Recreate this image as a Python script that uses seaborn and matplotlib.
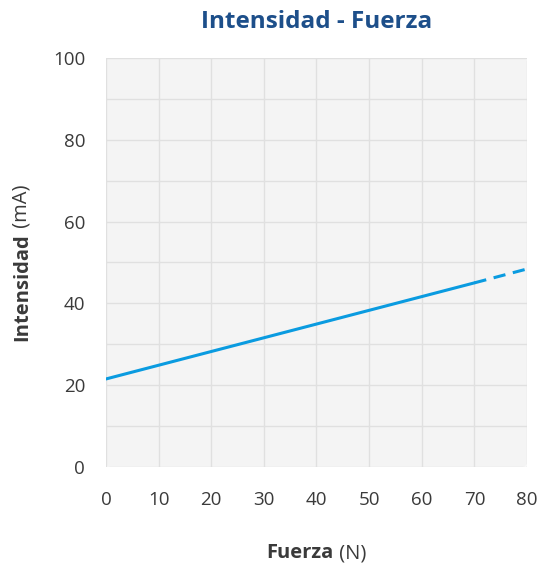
import matplotlib
matplotlib.use("Agg")
import matplotlib.pyplot as plt
from matplotlib.patches import FancyBboxPatch
import pandas as pd
import seaborn as sns

# datos
fuerza_medida = [0, 70]
intensidad_medida = [21.5, 45.0]
fuerza_extrapolada = [70, 80]
intensidad_extrapolada = [45.0, 48.4]
x_ticks = [0, 10, 20, 30, 40, 50, 60, 70, 80]
y_ticks = [0, 20, 40, 60, 80, 100]

sns.set_theme(style="white")
plt.rcParams["font.family"] = ["Open Sans", "DejaVu Sans"]

LINE = "#0a9be0"
TEXT = "#3a3a3a"

fig = plt.figure(figsize=(5.49, 5.68), dpi=100)
ax = fig.add_axes([0.193, 0.178, 0.767, 0.72])

ax.patch.set_visible(False)
bg = FancyBboxPatch((0, 0), 1, 1, boxstyle="round,pad=0,rounding_size=0.012",
                    transform=ax.transAxes, facecolor="#f4f4f4", edgecolor="none",
                    zorder=0)
ax.add_patch(bg)

df1 = pd.DataFrame({"x": fuerza_medida, "y": intensidad_medida})
df2 = pd.DataFrame({"x": fuerza_extrapolada, "y": intensidad_extrapolada})
sns.lineplot(data=df1, x="x", y="y", ax=ax, color=LINE, lw=2.2, zorder=3)
sns.lineplot(data=df2, x="x", y="y", ax=ax, color=LINE, lw=2.2, zorder=3,
             dashes=False, linestyle=(0, (4, 2.5)))

ax.set_xlim(0, 80)
ax.set_ylim(0, 100)
ax.set_xticks(x_ticks)
ax.set_yticks(y_ticks)
ax.set_yticks(range(0, 101, 10), minor=True)
ax.grid(True, which="both", color="#e0e0e0", lw=1, zorder=1)
ax.set_axisbelow(True)
for s in ax.spines.values():
    s.set_visible(False)
ax.tick_params(axis="both", which="both", length=0, labelsize=13.5, colors=TEXT)
ax.tick_params(axis="x", pad=17)
ax.tick_params(axis="y", pad=15)
ax.set_xlabel("")
ax.set_ylabel("")

fig.text(0.576, 0.962, "Intensidad - Fuerza", ha="center", va="center",
         fontsize=17.5, fontweight="bold", color="#1d4f8a")

# etiquetas de ejes: parte en negrita y parte normal, centradas juntas
renderer = fig.canvas.get_renderer()

bx = fig.text(0, 0.026, "Fuerza", ha="left", va="center", fontsize=14.5,
              fontweight="bold", color=TEXT)
nx = fig.text(0, 0.026, " (N)", ha="left", va="center", fontsize=14.5, color=TEXT)
wb = bx.get_window_extent(renderer).width / fig.bbox.width
wn = nx.get_window_extent(renderer).width / fig.bbox.width
x0 = 0.576 - (wb + wn) / 2
bx.set_x(x0)
nx.set_x(x0 + wb)

by = fig.text(0.04, 0, "Intensidad", ha="center", va="bottom", rotation=90,
              fontsize=14.5, fontweight="bold", color=TEXT)
ny = fig.text(0.04, 0, " (mA)", ha="center", va="bottom", rotation=90,
              fontsize=14.5, color=TEXT)
hb = by.get_window_extent(renderer).height / fig.bbox.height
hn = ny.get_window_extent(renderer).height / fig.bbox.height
y0 = 0.538 - (hb + hn) / 2
by.set_y(y0)
ny.set_y(y0 + hb)

fig.savefig("out.png", dpi=100)
